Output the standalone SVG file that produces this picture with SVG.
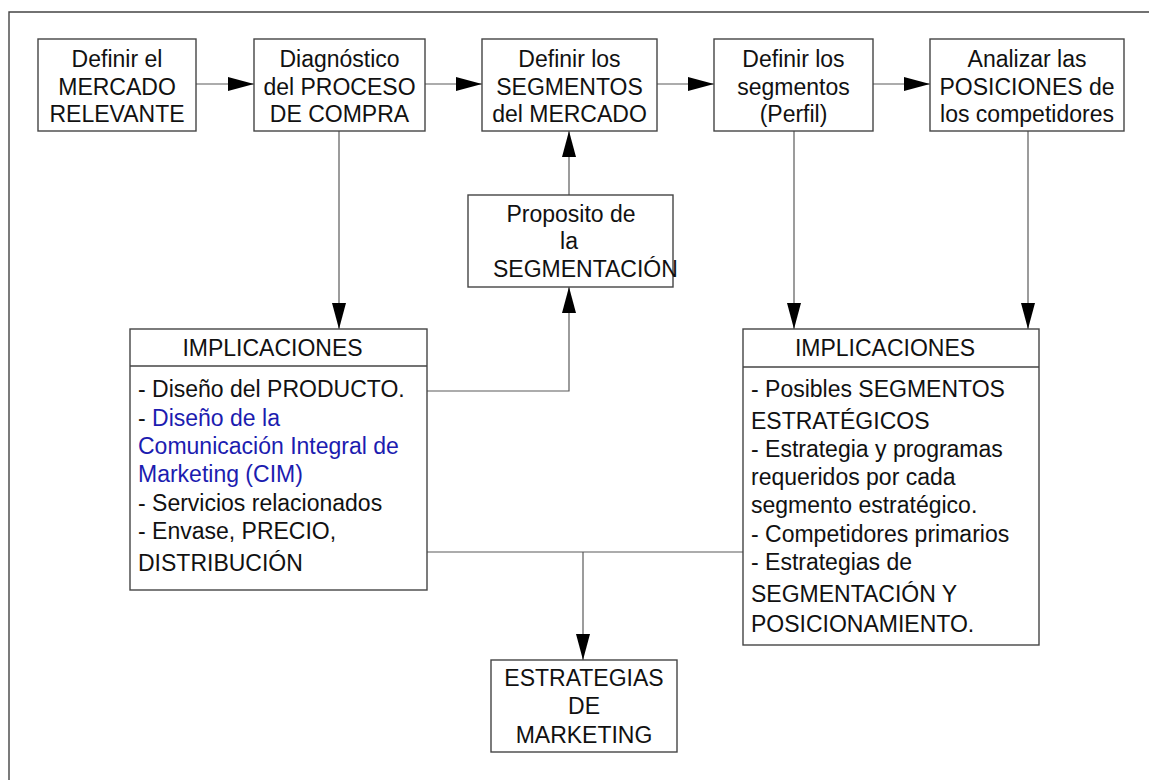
<svg xmlns="http://www.w3.org/2000/svg" width="1149" height="780" viewBox="0 0 1149 780">
  <style>
    .box { fill: #ffffff; stroke: #454545; stroke-width: 1.4; }
    .lbl { font-family: "Liberation Sans", Arial, sans-serif; font-size: 23px; fill: #111111; }
    .mid { text-anchor: middle; }
    .blue { fill: #1c1cb0; }
    .wire { fill: none; stroke: #5a5a5a; stroke-width: 1.2; }
    .frame { fill: none; stroke: #444444; stroke-width: 1.4; }
  </style>
  <defs>
    <marker id="arrow" markerUnits="userSpaceOnUse" markerWidth="26" markerHeight="14" refX="26" refY="7" orient="auto">
      <path d="M0,0 L26,7 L0,14 z" fill="#000000"/>
    </marker>
  </defs>

  <rect width="1149" height="780" fill="#ffffff"/>

  <!-- page frame (top and left edges) -->
  <path class="frame" d="M9,780 V12 H1149"/>

  <!-- connectors -->
  <g id="connectors">
    <line class="wire" x1="196" y1="84" x2="254" y2="84" marker-end="url(#arrow)"/>
    <line class="wire" x1="425" y1="84" x2="482" y2="84" marker-end="url(#arrow)"/>
    <line class="wire" x1="657" y1="84" x2="714" y2="84" marker-end="url(#arrow)"/>
    <line class="wire" x1="873" y1="84" x2="930" y2="84" marker-end="url(#arrow)"/>
    <line class="wire" x1="339" y1="131" x2="339" y2="329" marker-end="url(#arrow)"/>
    <line class="wire" x1="569" y1="195" x2="569" y2="131" marker-end="url(#arrow)"/>
    <polyline class="wire" points="427,391 569,391 569,287" marker-end="url(#arrow)"/>
    <line class="wire" x1="794" y1="131" x2="794" y2="329" marker-end="url(#arrow)"/>
    <line class="wire" x1="1028" y1="131" x2="1028" y2="329" marker-end="url(#arrow)"/>
    <line class="wire" x1="427" y1="552" x2="743" y2="552"/>
    <line class="wire" x1="583" y1="552" x2="583" y2="660" marker-end="url(#arrow)"/>
  </g>

  <g id="mercado">
    <rect class="box" x="38" y="39" width="158" height="92"/>
    <text class="lbl mid" x="117" y="67">Definir el</text>
    <text class="lbl mid" x="117" y="95">MERCADO</text>
    <text class="lbl mid" x="117" y="122">RELEVANTE</text>
  </g>

  <g id="diagnostico">
    <rect class="box" x="254" y="39" width="171" height="92"/>
    <text class="lbl mid" x="339.5" y="67">Diagnóstico</text>
    <text class="lbl mid" x="339.5" y="95">del PROCESO</text>
    <text class="lbl mid" x="339.5" y="122">DE COMPRA</text>
  </g>

  <g id="segmentos">
    <rect class="box" x="482" y="39" width="175" height="92"/>
    <text class="lbl mid" x="569.5" y="67">Definir los</text>
    <text class="lbl mid" x="569.5" y="95">SEGMENTOS</text>
    <text class="lbl mid" x="569.5" y="122">del MERCADO</text>
  </g>

  <g id="perfil">
    <rect class="box" x="714" y="39" width="159" height="92"/>
    <text class="lbl mid" x="793.5" y="67">Definir los</text>
    <text class="lbl mid" x="793.5" y="95">segmentos</text>
    <text class="lbl mid" x="793.5" y="122">(Perfil)</text>
  </g>

  <g id="posiciones">
    <rect class="box" x="930" y="39" width="194" height="92"/>
    <text class="lbl mid" x="1027" y="67">Analizar las</text>
    <text class="lbl mid" x="1027" y="95">POSICIONES de</text>
    <text class="lbl mid" x="1027" y="122">los competidores</text>
  </g>

  <g id="proposito">
    <rect class="box" x="468" y="195" width="205" height="92"/>
    <text class="lbl mid" x="571" y="222">Proposito de</text>
    <text class="lbl mid" x="569" y="249">la</text>
    <text class="lbl" x="493" y="277">SEGMENTACIÓN</text>
  </g>

  <g id="implicaciones-izq">
    <rect class="box" x="130" y="329" width="297" height="261"/>
    <line class="box" x1="130" y1="366" x2="427" y2="366"/>
    <text class="lbl mid" x="272.5" y="356">IMPLICACIONES</text>
    <text class="lbl" x="138" y="397">- Diseño del PRODUCTO.</text>
    <text class="lbl" x="138" y="426">- <tspan class="blue">Diseño de la</tspan></text>
    <text class="lbl blue" x="138" y="454">Comunicación Integral de</text>
    <text class="lbl blue" x="138" y="482">Marketing (CIM)</text>
    <text class="lbl" x="138" y="511">- Servicios relacionados</text>
    <text class="lbl" x="138" y="539">- Envase, PRECIO,</text>
    <text class="lbl" x="138" y="571">DISTRIBUCIÓN</text>
  </g>

  <g id="implicaciones-der">
    <rect class="box" x="743" y="329" width="296" height="316"/>
    <line class="box" x1="743" y1="367" x2="1039" y2="367"/>
    <text class="lbl mid" x="885" y="356">IMPLICACIONES</text>
    <text class="lbl" x="751" y="397">- Posibles SEGMENTOS</text>
    <text class="lbl" x="751" y="429">ESTRATÉGICOS</text>
    <text class="lbl" x="751" y="457">- Estrategia y programas</text>
    <text class="lbl" x="751" y="485">requeridos por cada</text>
    <text class="lbl" x="751" y="513">segmento estratégico.</text>
    <text class="lbl" x="751" y="542">- Competidores primarios</text>
    <text class="lbl" x="751" y="570">- Estrategias de</text>
    <text class="lbl" x="751" y="602">SEGMENTACIÓN Y</text>
    <text class="lbl" x="751" y="632">POSICIONAMIENTO.</text>
  </g>

  <g id="estrategias">
    <rect class="box" x="491" y="660" width="186" height="92"/>
    <text class="lbl mid" x="584" y="686">ESTRATEGIAS</text>
    <text class="lbl mid" x="584" y="714">DE</text>
    <text class="lbl mid" x="584" y="743">MARKETING</text>
  </g>
</svg>
